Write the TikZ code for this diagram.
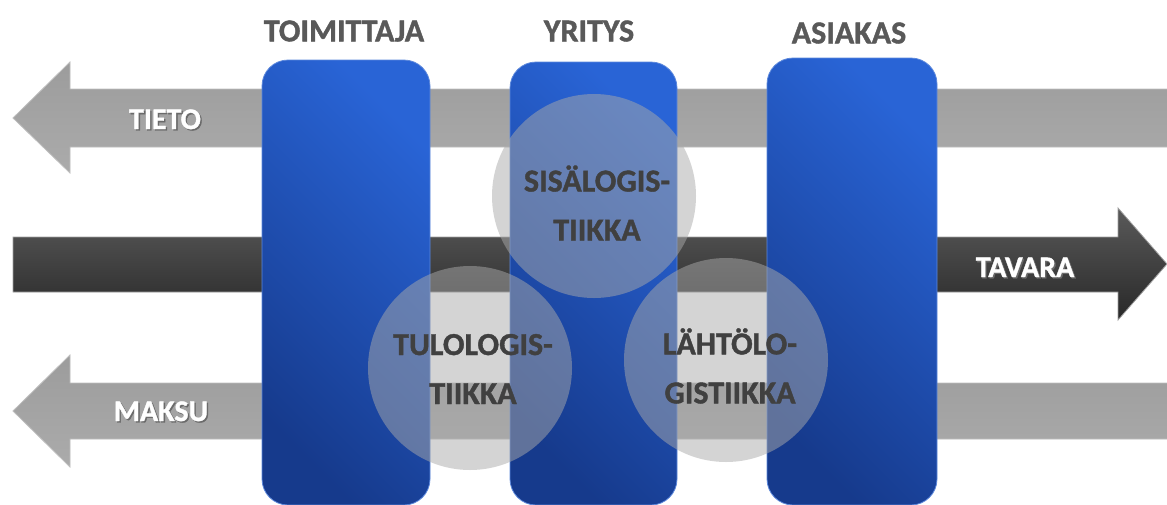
\documentclass[tikz,border=0pt]{standalone}
\usepackage{fontspec}
\setmainfont{Carlito}[BoldFeatures={FakeBold=1.2}]
\definecolor{barDark}{HTML}{163A8C}
\definecolor{barBright}{HTML}{2964D6}
\definecolor{barEdge}{HTML}{5C88DC}
\definecolor{lgTop}{HTML}{9C9C9C}
\definecolor{lgBot}{HTML}{ABABAB}
\definecolor{lgEdge}{HTML}{BEBEBE}
\definecolor{dkTop}{HTML}{5A5A5A}
\definecolor{dkBot}{HTML}{282828}
\definecolor{dkEdge}{HTML}{A0A0A0}
\definecolor{circFill}{HTML}{AAAAAA}
\definecolor{headTxt}{HTML}{595959}
\definecolor{circTxt}{HTML}{404040}
\definecolor{shadowTxt}{HTML}{6A6A6A}
\newcommand{\ShTxt}[1]{\leavevmode\rlap{\raisebox{-1.4pt}{\kern1.4pt\textcolor{shadowTxt}{#1}}}#1}
\begin{document}
\begin{tikzpicture}[x=1pt,y=-1pt,
  lightarrow/.style={top color=lgTop,bottom color=lgBot,draw=lgEdge,line width=0.8pt},
  darkarrow/.style={top color=dkTop,bottom color=dkBot,draw=dkEdge,line width=0.8pt},
  barbox/.style={left color=barBright,right color=barDark,shading angle=-45,draw=barEdge,line width=0.8pt,rounded corners=26pt},
  circbox/.style={fill=circFill,fill opacity=0.5},
  toplabel/.style={inner sep=0pt,text=headTxt,font=\fontsize{32}{38}\selectfont\bfseries},
  arrowlabel/.style={inner sep=0pt,text=white,font=\fontsize{30}{36}\selectfont\bfseries},
  circlabel/.style={inner sep=0pt,text=circTxt,align=center,font=\fontsize{32}{49}\selectfont\bfseries}]
\useasboundingbox (0,0) rectangle (1167,504);
\fill[white] (0,0) rectangle (1167,504);
% arrows
\shade[lightarrow] (13,118) -- (70,62) -- (70,89) -- (1168,89) -- (1168,147) -- (70,147) -- (70,173) -- cycle;
\shade[darkarrow] (13,237) -- (1118,237) -- (1118,208) -- (1167,264) -- (1118,320) -- (1118,292) -- (13,292) -- cycle;
\shade[lightarrow] (13,411) -- (70,355) -- (70,383) -- (1168,383) -- (1168,439) -- (70,439) -- (70,467) -- cycle;
% bars
\shade[barbox] (262,60) rectangle (430,505);
\shade[barbox] (510,62) rectangle (677,505);
\shade[barbox] (767,58) rectangle (937,505);
% circles
\fill[circbox] (594,196) circle[radius=102];
\fill[circbox] (470,368) circle[radius=102];
\fill[circbox] (726,360) circle[radius=102];
% labels
\node[toplabel] (toim) at (344,31) {TOIMITTAJA};
\node[toplabel] (yrit) at (589,31) {YRITYS};
\node[toplabel] (asia) at (849,33) {ASIAKAS};
\node[arrowlabel] (tieto) at (165,120) {\ShTxt{TIETO}};
\node[arrowlabel] (tavara) at (1025,268) {\ShTxt{TAVARA}};
\node[arrowlabel] (maksu) at (161,412) {\ShTxt{MAKSU}};
\node[circlabel] (sisa) at (597,203) {SISÄLOGIS-\\TIIKKA};
\node[circlabel] (tulo) at (473,369) {TULOLOGIS-\\TIIKKA};
\node[circlabel] (lahto) at (730,366) {LÄHTÖLO-\\GISTIIKKA};
\end{tikzpicture}
\end{document}
